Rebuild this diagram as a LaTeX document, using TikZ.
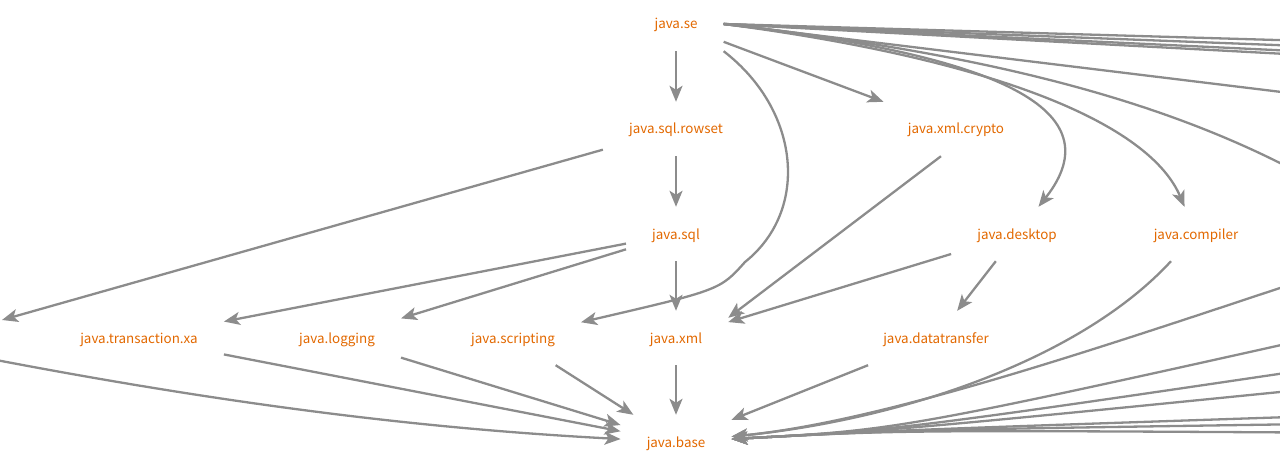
\documentclass[tikz,border=0pt]{standalone}
\usepackage{fontspec}
\setmainfont{Noto Sans CJK KR}
\usetikzlibrary{arrows.meta}

\definecolor{modtext}{RGB}{226,104,0}
\definecolor{depline}{RGB}{140,140,140}

\tikzset{
  module/.style={rectangle, inner xsep=26pt, inner ysep=0pt, minimum height=54pt,
    text height=12pt, text depth=2pt, text=modtext,
    font=\fontsize{13.4pt}{15pt}\selectfont},
  dep/.style={draw=depline, line width=2.3pt,
    -{Stealth[length=16pt,width=13pt,inset=4pt]}},
}

\begin{document}
\begin{tikzpicture}[x=1pt,y=-1pt]
	\clip (0,0) rectangle (1280,468);

	\node[module] (se) at (676,24) {java.se};
	\node[module] (rowset) at (676,129) {java.sql.rowset};
	\node[module] (crypto) at (956,129) {java.xml.crypto};
	\node[module] (sql) at (676,234) {java.sql};
	\node[module] (desktop) at (1017,234) {java.desktop};
	\node[module] (compiler) at (1196,234) {java.compiler};
	\node[module] (xa) at (139,338) {java.transaction.xa};
	\node[module] (logging) at (337,338) {java.logging};
	\node[module] (scripting) at (513,338) {java.scripting};
	\node[module] (xml) at (676,338) {java.xml};
	\node[module] (datatransfer) at (936,338) {java.datatransfer};
	\node[module] (base) at (676,442) {java.base};

	% modules outside the visible part
	\coordinate (offW1) at (2,320);
	\coordinate (offW2) at (-40,353);
	\coordinate (offE1) at (1380,43);
	\coordinate (offE2) at (1380,49);
	\coordinate (offE3) at (1380,55);
	\coordinate (offE4) at (1380,59);
	\coordinate (offE5) at (1380,104);
	\coordinate (offE6) at (1330,190);
	\coordinate (offE7) at (1380,255);
	\coordinate (offE8) at (1380,323);
	\coordinate (offE9) at (1380,359);
	\coordinate (offE10) at (1380,382);
	\coordinate (offE11) at (1380,414);
	\coordinate (offE12) at (1380,423);
	\coordinate (offE13) at (1380,433);

	\draw[dep] (se) -- (rowset);
	\draw[dep] (se) -- (crypto);
	\draw[dep] (se.south east) .. controls (800,110) and (810,210) .. (745,262)
		.. controls (720,290) .. (scripting);
	\draw[dep] (se.east) .. controls (1000,55) and (1115,110) .. (desktop);
	\draw[dep] (se.east) .. controls (1000,60) and (1150,125) .. (compiler);
	\draw[dep] (se.east) -- (offE1);
	\draw[dep] (se.east) -- (offE2);
	\draw[dep] (se.east) -- (offE3);
	\draw[dep] (se.east) -- (offE4);
	\draw[dep] (se.east) -- (offE5);
	\draw[dep] (se.east) .. controls (1000,55) and (1180,105) .. (offE6);

	\draw[dep] (rowset) -- (sql);
	\draw[dep] (rowset) -- (offW1);
	\draw[dep] ([xshift=-15pt]crypto.south) -- ([yshift=-7pt]xml.north east);

	\draw[dep] (sql) -- (xa);
	\draw[dep] (sql) -- (logging);
	\draw[dep] (sql) -- (xml);
	\draw[dep] (desktop) -- (xml);
	\draw[dep] (desktop) -- (datatransfer);

	\draw[dep] (offW2) .. controls (250,410) and (450,430) .. (base);
	\draw[dep] (xa) -- (base);
	\draw[dep] (logging) -- (base);
	\draw[dep] (scripting) -- (base);
	\draw[dep] (xml) -- (base);
	\draw[dep] (datatransfer) -- (base);
	\draw[dep] (compiler) .. controls (1080,360) and (900,420) .. (base);
	\draw[dep] (offE7) .. controls (1150,330) and (900,420) .. (base);
	\draw[dep] (offE8) .. controls (900,430) .. (base);
	\draw[dep] (offE9) .. controls (900,430) .. (base);
	\draw[dep] (offE10) .. controls (900,430) .. (base);
	\draw[dep] (offE11) .. controls (900,430) .. (base);
	\draw[dep] (offE12) .. controls (900,430) .. (base);
	\draw[dep] (offE13) .. controls (900,430) .. (base);
\end{tikzpicture}
\end{document}
